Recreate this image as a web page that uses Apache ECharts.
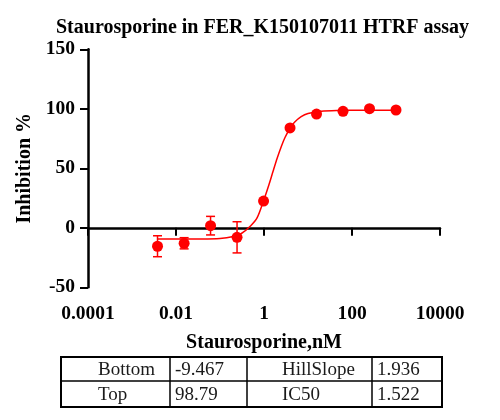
<!DOCTYPE html>
<html>
<head>
<meta charset="utf-8">
<script src="https://cdn.jsdelivr.net/npm/echarts@6/dist/echarts.min.js"></script>
<style>html,body{margin:0;padding:0;background:#fff}#c{width:500px;height:420px}</style>
</head>
<body>
<div id="c"></div>
<script>
const titleText = 'Staurosporine in FER_K150107011 HTRF assay';
const xAxisName = 'Staurosporine,nM';
const yAxisName = 'Inhibition %';
const xTickLabels = ['0.0001', '0.01', '1', '100', '10000'];
const yTickLabels = ['-50', '0', '50', '100', '150'];
const concentrations = [0.0038, 0.0153, 0.061, 0.244, 0.977, 3.906, 15.63, 62.5, 250, 1000];
const inhibitionMean = [-15.5, -13.0, 1.8, -8.0, 22.5, 83.9, 95.6, 97.9, 100.1, 99.0];
const inhibitionErr = [8.8, 4.7, 7.8, 13.1, 0, 0, 0, 0, 0, 0];
const curveConc = [0.0038, 0.01, 0.03, 0.1, 0.2, 0.3, 0.5, 0.7, 1.0, 1.3, 1.6, 2.0, 2.5, 3.0, 4.0, 5.0, 7.0, 10, 20, 50, 100, 300, 1000];
const curveValues = [-9.5, -9.5, -9.4, -8.9, -7.3, -5.0, 1.8, 8.5, 23.8, 36.4, 47.3, 58.7, 68.8, 75.9, 84.3, 88.9, 93.4, 96.0, 97.9, 98.6, 98.7, 98.8, 98.8];
const tableRows = [['Bottom', '-9.467', 'HillSlope', '1.936'], ['Top', '98.79', 'IC50', '1.522']];

const red = '#ff0000';
const serif = '"Liberation Serif", "Times New Roman", serif';

const chart = echarts.init(document.getElementById('c'), null, {renderer: 'canvas'});

const pointData = concentrations.map((c, i) => [c, inhibitionMean[i]]);
const errData = concentrations.map((c, i) => [c, inhibitionMean[i] - inhibitionErr[i], inhibitionMean[i] + inhibitionErr[i]]);
const curveData = curveConc.map((c, i) => [c, curveValues[i]]);

// table graphics
const tX = [61, 170, 247, 372, 442];
const tY = [357, 381, 407];
const textX = [98, 175, 282, 377];
const graphics = [];
graphics.push({type: 'rect', shape: {x: tX[0], y: tY[0], width: tX[4] - tX[0], height: tY[2] - tY[0]}, style: {fill: 'none', stroke: '#000', lineWidth: 2}});
graphics.push({type: 'line', shape: {x1: tX[0], y1: tY[1], x2: tX[4], y2: tY[1]}, style: {stroke: '#000', lineWidth: 1.5}});
for (let k = 1; k < 4; k++) {
  graphics.push({type: 'line', shape: {x1: tX[k], y1: tY[0], x2: tX[k], y2: tY[2]}, style: {stroke: '#000', lineWidth: 1.5}});
}
tableRows.forEach((row, r) => {
  row.forEach((txt, k) => {
    graphics.push({type: 'text', x: textX[k], y: (tY[r] + tY[r + 1]) / 2 + 1,
      style: {text: txt, font: '19px ' + serif, fill: '#1a1a1a', textVerticalAlign: 'middle', verticalAlign: 'middle', textAlign: 'left'}});
  });
});

const option = {
  animation: false,
  backgroundColor: '#fff',
  title: {
    text: titleText, left: 56, top: 18, padding: 0,
    textStyle: {fontFamily: serif, fontWeight: 'bold', fontSize: 20, color: '#000'}
  },
  grid: {left: 88, right: 60, top: 49.3, bottom: 132.7, containLabel: false},
  xAxis: {
    type: 'log', logBase: 10, min: 0.0001, max: 10000, interval: 2,
    name: xAxisName, nameLocation: 'middle', nameGap: 46,
    nameTextStyle: {fontFamily: serif, fontWeight: 'bold', fontSize: 20, color: '#000'},
    axisLine: {lineStyle: {color: '#000', width: 2.5}},
    axisTick: {show: true, length: 8, lineStyle: {color: '#000', width: 2}},
    minorTick: {show: false},
    splitLine: {show: false},
    axisLabel: {
      margin: 17, fontFamily: serif, fontWeight: 'bold', fontSize: 19.5, color: '#000',
      formatter: v => xTickLabels[Math.round(Math.log10(v)) / 2 + 2]
    }
  },
  yAxis: {
    type: 'value', min: -50, max: 150, interval: 50,
    name: yAxisName, nameLocation: 'middle', nameGap: 45, nameRotate: 90,
    nameTextStyle: {fontFamily: serif, fontWeight: 'bold', fontSize: 20, color: '#000'},
    axisLine: {show: true, lineStyle: {color: '#000', width: 2.5}},
    axisTick: {show: true, length: 8, lineStyle: {color: '#000', width: 2}},
    splitLine: {show: false},
    axisLabel: {
      margin: 13, fontFamily: serif, fontWeight: 'bold', fontSize: 19.5, color: '#000',
      formatter: v => yTickLabels[Math.round((v + 50) / 50)]
    }
  },
  series: [
    {
      type: 'line', data: curveData, smooth: 0.3, showSymbol: false, symbol: 'none',
      lineStyle: {color: red, width: 1.5}, z: 2, silent: true
    },
    {
      type: 'custom', data: errData, z: 3,
      renderItem: (params, api) => {
        if (api.value(2) - api.value(1) === 0) return null;
        const lo = api.coord([api.value(0), api.value(1)]);
        const hi = api.coord([api.value(0), api.value(2)]);
        const w = 4.5;
        const st = {stroke: red, lineWidth: 1.5, fill: 'none'};
        return {type: 'group', children: [
          {type: 'line', shape: {x1: lo[0], y1: lo[1], x2: hi[0], y2: hi[1]}, style: st},
          {type: 'line', shape: {x1: lo[0] - w, y1: lo[1], x2: lo[0] + w, y2: lo[1]}, style: st},
          {type: 'line', shape: {x1: hi[0] - w, y1: hi[1], x2: hi[0] + w, y2: hi[1]}, style: st}
        ]};
      }
    },
    {
      type: 'scatter', data: pointData, symbol: 'circle', symbolSize: 11,
      itemStyle: {color: red, opacity: 1}, z: 4
    }
  ],
  graphic: graphics
};
chart.setOption(option);
</script>
</body>
</html>
